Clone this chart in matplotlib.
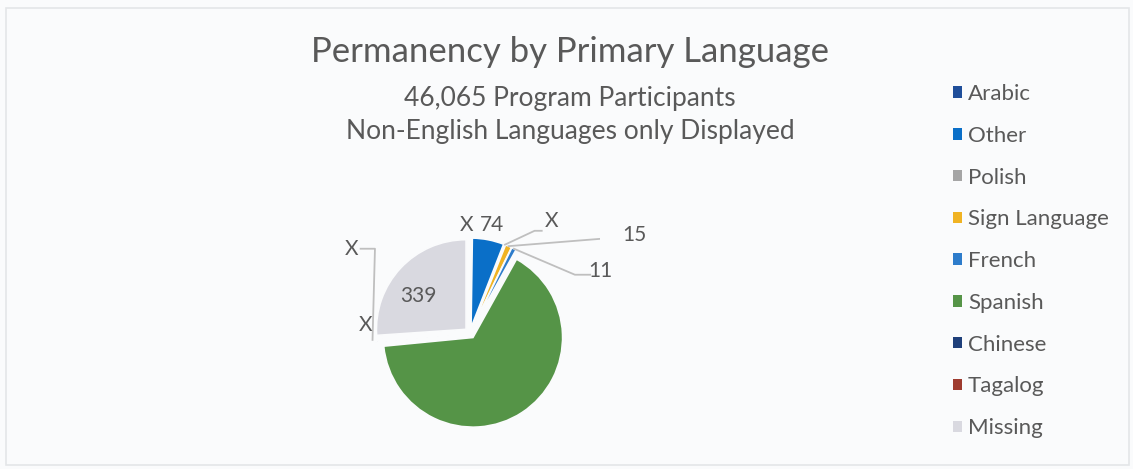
import matplotlib
matplotlib.use("Agg")
import matplotlib.pyplot as plt
import numpy as np
from matplotlib.patches import Rectangle

# ---- data ----
languages = ["Arabic", "Other", "Polish", "Sign Language", "French",
             "Spanish", "Chinese", "Tagalog", "Missing"]
counts = [3, 74, 2, 15, 11, 850, 4, 2, 339]
labels = ["X", "74", "X", "15", "11", "", "X", "X", "339"]
colors = ["#1F4E9A", "#0A6FC8", "#A5A5A5", "#F0B323", "#2D7CCB",
          "#559447", "#1E3F7A", "#9E3B2F", "#D9D9E0"]

title = "Permanency by Primary Language"
subtitle = "46,065 Program Participants\nNon-English Languages only Displayed"

# label placement (layout only): text position, elbow point (or None)
label_layout = {
    0: ((-0.04, 1.20), None),
    1: ((0.24, 1.20), None),
    2: ((0.91, 1.25), (0.72, 1.14)),
    3: ((1.83, 1.09), (1.70, 1.07)),
    4: ((1.45, 0.69), (1.17, 0.65)),
    6: ((-1.17, 0.09), None),
    7: ((-1.32, 0.94), (-1.06, 0.86)),
    8: ((-0.58, 0.41), None),
}

plt.rcParams['font.family'] = ['Lato', 'DejaVu Sans']
txt_color = "#595959"

W, H = 1133, 469
fig = plt.figure(figsize=(W / 100, H / 100), dpi=100)
fig.patch.set_facecolor("#FAFBFC")
fig.add_artist(Rectangle((6 / W, 4 / H), (W - 10) / W, (H - 12) / H,
                         transform=fig.transFigure, fill=False,
                         edgecolor="#E4E6E8", lw=1.2))

cx, cy, half = 470, 333, 130
ax = fig.add_axes([(cx - half) / W, (H - cy - half) / H, 2 * half / W, 2 * half / H])

explode = [0.06] * len(counts)
wedges, _ = ax.pie(counts, colors=colors, startangle=90, counterclock=False,
                   explode=explode, radius=1.0,
                   wedgeprops=dict(linewidth=1.2, edgecolor="#FAFBFC"))
ax.set_xlim(-1.45, 1.45)
ax.set_ylim(-1.45, 1.45)
ax.set_aspect("equal")
ax.axis("off")

for i, w in enumerate(wedges):
    if i not in label_layout:
        continue
    (tx, ty), elbow = label_layout[i]
    ang = np.deg2rad((w.theta1 + w.theta2) / 2)
    r = 1.0 + explode[i]
    ex, ey = np.cos(ang) * r, np.sin(ang) * r
    if elbow is not None:
        if i == 7:
            ax.plot([ex - 0.03, elbow[0], tx + 0.1], [ey, ty, ty],
                    color="#BFBFBF", lw=1.3)
        else:
            ax.plot([ex, elbow[0], tx - 0.11], [ey, elbow[1], elbow[1]],
                    color="#BFBFBF", lw=1.3)
    ax.text(tx, ty, labels[i], ha="center", va="center", fontsize=15, color=txt_color)

fig.text(570 / W, 1 - 52 / H, title, ha="center", va="center", fontsize=25, color=txt_color)
fig.text(570 / W, 1 - 115 / H, subtitle, ha="center", va="center", fontsize=19,
         color=txt_color, linespacing=1.38)

leg = fig.legend(wedges, languages, loc="upper left",
                 bbox_to_anchor=(933 / W, 1 - 64 / H), frameon=False,
                 fontsize=16, labelcolor=txt_color, handlelength=0.42,
                 handleheight=0.42, handletextpad=0.25, labelspacing=0.98)
for h in leg.legend_handles:
    h.set_edgecolor("none")

fig.savefig("out.png", dpi=100, facecolor=fig.get_facecolor())
